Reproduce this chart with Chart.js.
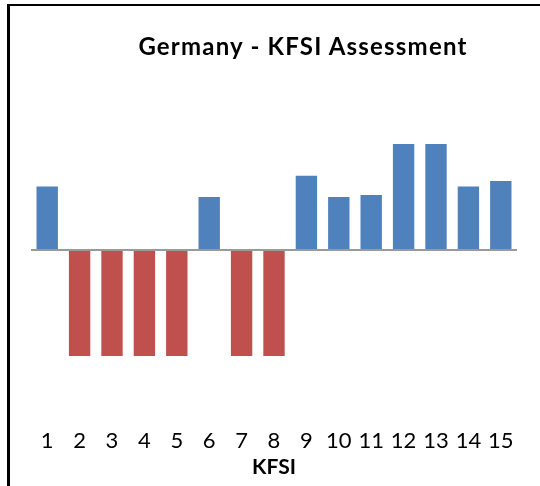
<!DOCTYPE html>
<html>
<head>
<meta charset="utf-8">
<script src="https://cdn.jsdelivr.net/npm/chart.js@4.4.1/dist/chart.umd.min.js"></script>
<style>
  html, body { margin: 0; padding: 0; background: #fff; }
  #wrap { position: relative; width: 540px; height: 486px; overflow: hidden; }
  #frame { position: absolute; left: 7px; top: 4px; right: -10px; bottom: -10px;
           border-left: 3px solid #000; border-top: 2px solid #000; pointer-events: none; }
  #title { position: absolute; left: 0; width: 606px; top: 32px; text-align: center;
           font: bold 24px Lato, sans-serif; letter-spacing: 1.2px; color: #000; line-height: 28px; }
  canvas { position: absolute; left: 0; top: 0; }
</style>
</head>
<body>
<div id="wrap">
  <canvas id="c" width="540" height="486"></canvas>
  <div id="title">Germany - KFSI Assessment</div>
  <div id="frame"></div>
</div>
<script>
const categories = ["1","2","3","4","5","6","7","8","9","10","11","12","13","14","15"];
const kfsiValues = [0.6, -1, -1, -1, -1, 0.5, -1, -1, 0.7, 0.5, 0.52, 1, 1, 0.6, 0.65];
const xAxisTitle = "KFSI";

const POS = "#4F81BD", NEG = "#C0504D";

new Chart(document.getElementById("c"), {
  type: "bar",
  data: {
    labels: categories,
    datasets: [{
      data: kfsiValues,
      backgroundColor: kfsiValues.map(v => v >= 0 ? POS : NEG),
      borderWidth: 0,
      categoryPercentage: 1,
      barPercentage: 0.66
    }]
  },
  options: {
    responsive: false,
    animation: false,
    layout: { padding: { left: 31, right: 23, top: 65, bottom: 6 } },
    plugins: { legend: { display: false }, title: { display: false }, tooltip: { enabled: false } },
    scales: {
      x: {
        afterFit: s => { s.height = 57.6; },
        grid: { display: false, drawTicks: false },
        border: { display: false },
        ticks: { color: "#000", font: { family: "Lato", size: 22, lineHeight: 1 }, padding: 7.6, maxRotation: 0, autoSkip: false },
        title: { display: true, text: xAxisTitle, color: "#000",
                 font: { family: "Lato", size: 21, weight: "bold" }, padding: { top: 2, bottom: 0 } }
      },
      y: {
        min: -1.626, max: 1.745,
        ticks: { display: false, stepSize: 0.5 },
        border: { display: false },
        grid: { drawTicks: false, lineWidth: 2,
                color: ctx => (ctx.tick && Math.abs(ctx.tick.value) < 1e-9) ? "#9a9a9a" : "rgba(0,0,0,0)" }
      }
    }
  }
});
</script>
</body>
</html>
